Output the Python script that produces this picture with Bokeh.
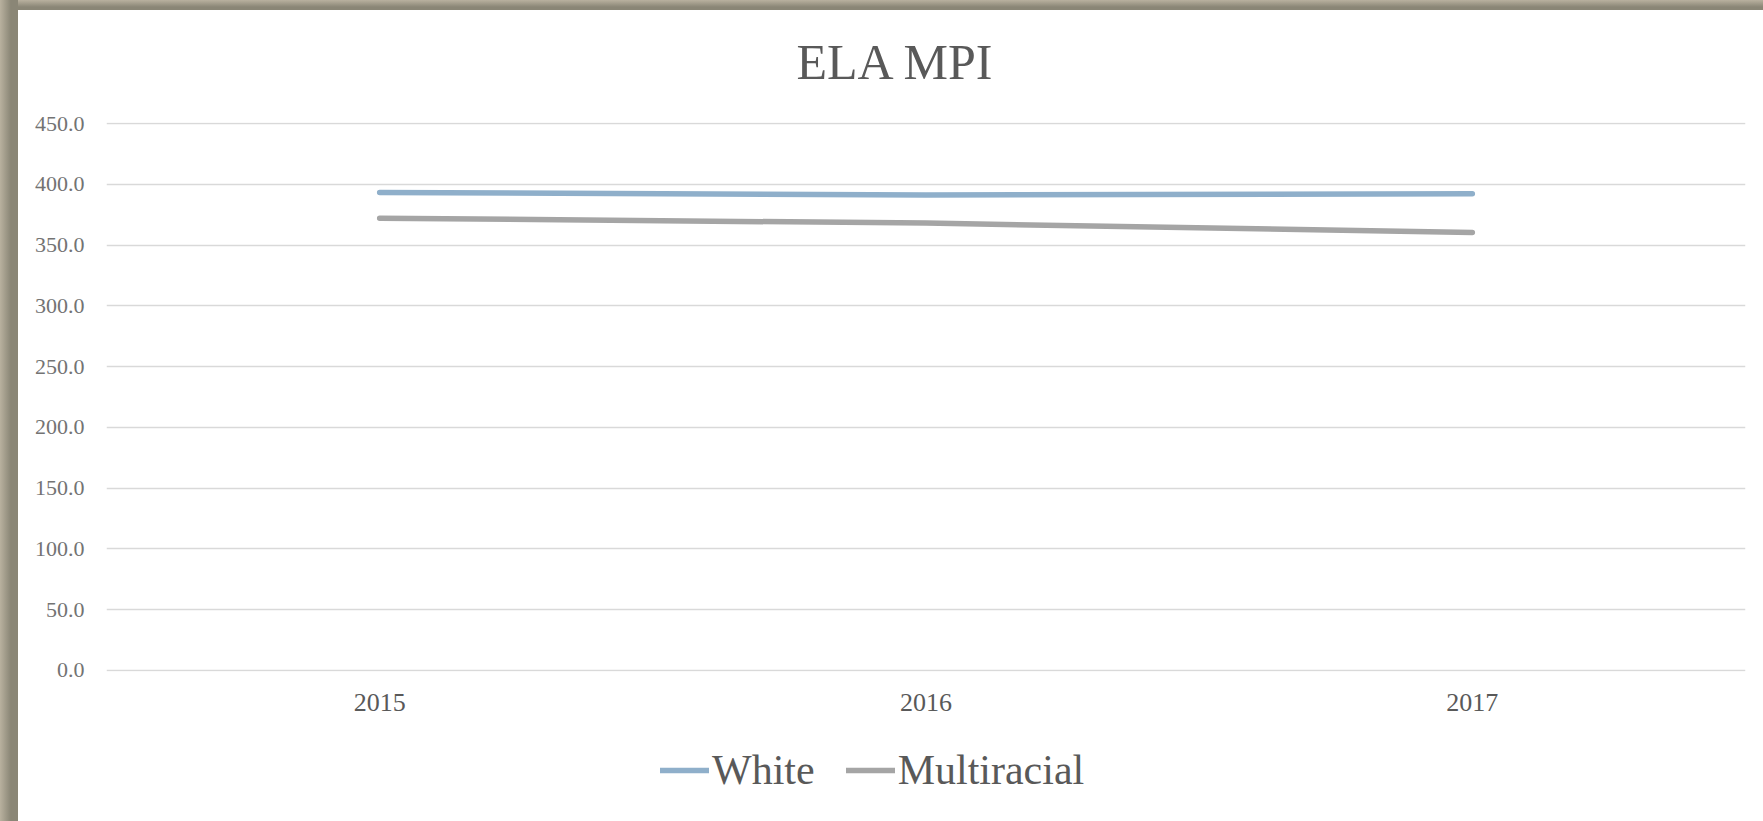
from bokeh.plotting import figure
from bokeh.models import Legend, LegendItem, Div, Range1d, FactorRange, SingleIntervalTicker, PrintfTickFormatter
from bokeh.layouts import row, column
from bokeh.embed import file_html
from bokeh.resources import INLINE

years = ["2015", "2016", "2017"]
white = [393.4, 391.3, 392.3]
multiracial = [372.2, 368.2, 360.4]
title_text = "ELA MPI"
series_names = ["White", "Multiracial"]
series_colors = ["#8FAFCA", "#A5A5A5"]

FONT = "Liberation Serif"

p = figure(x_range=FactorRange(*years), y_range=Range1d(-1, 451),
           width=1745, height=731, output_backend="svg", toolbar_location=None,
           min_border_left=88, min_border_right=18, min_border_top=122, min_border_bottom=60)
p.x_range.range_padding = 0
p.background_fill_color = "white"
p.border_fill_color = None
p.outline_line_color = None
# frame's top edge (the picture's border strip), painted behind the transparent canvas border
p.styles = {"background": "linear-gradient(to bottom, #b9b19f 0px, #8a8676 7px, #8a8676 10px, #ffffff 10px, #ffffff 100%)"}

p.title.text = title_text
p.title.text_font = FONT
p.title.text_font_size = "50px"
p.title.text_font_style = "normal"
p.title.text_color = "#595959"
p.title.align = "left"
p.title.offset = 690
p.title.vertical_align = "middle"
p.title.standoff = 63

line_kw = dict(line_width=5.5, line_cap="round", line_join="round")
r1 = p.line(years, white, line_color=series_colors[0], **line_kw)
r2 = p.line(years, multiracial, line_color=series_colors[1], **line_kw)

p.yaxis.ticker = SingleIntervalTicker(interval=50)
p.yaxis.formatter = PrintfTickFormatter(format="%.1f")
for ax in (p.xaxis, p.yaxis):
    ax.axis_line_color = None
    ax.major_tick_line_color = None
    ax.minor_tick_line_color = None
    ax.major_tick_out = 0
    ax.major_label_text_font = FONT
p.yaxis.major_label_text_font_size = "22px"
p.yaxis.major_label_text_color = "#737373"
p.yaxis.major_label_standoff = 18
p.xaxis.major_label_text_font_size = "26px"
p.xaxis.major_label_text_color = "#595959"
p.xaxis.major_label_standoff = 22

p.xgrid.grid_line_color = None
p.ygrid.grid_line_color = "#D9D9D9"
p.ygrid.grid_line_width = 1.5

# legend strip below the chart (series drawn out of view, only the legend shows)
lf = figure(x_range=FactorRange(*years), y_range=Range1d(1000, 1001), width=1745, height=90,
            output_backend="svg", toolbar_location=None,
            min_border_left=0, min_border_right=0, min_border_top=0, min_border_bottom=0)
lf.axis.visible = False
lf.grid.visible = False
lf.outline_line_color = None
lf.background_fill_color = "white"
lf.border_fill_color = "white"
lr1 = lf.line(years, white, line_color=series_colors[0], **line_kw)
lr2 = lf.line(years, multiracial, line_color=series_colors[1], **line_kw)
legend = Legend(items=[LegendItem(label=series_names[0], renderers=[lr1]),
                       LegendItem(label=series_names[1], renderers=[lr2])],
                orientation="horizontal", location=(554, 27),
                label_text_font=FONT, label_text_font_size="42px", label_text_color="#595959",
                glyph_width=49, glyph_height=30, label_standoff=3, spacing=31,
                border_line_color=None, background_fill_alpha=0, padding=4, margin=0)
lf.add_layout(legend, "center")

left_bar = Div(width=18, height=821, margin=0,
               styles={"background": "linear-gradient(to right, #b9b19f, #8a8676 60%, #8a8676)"})
layout = row(left_bar, column(p, lf, spacing=0), spacing=0)

open("out.html", "w").write(file_html(layout, INLINE))
